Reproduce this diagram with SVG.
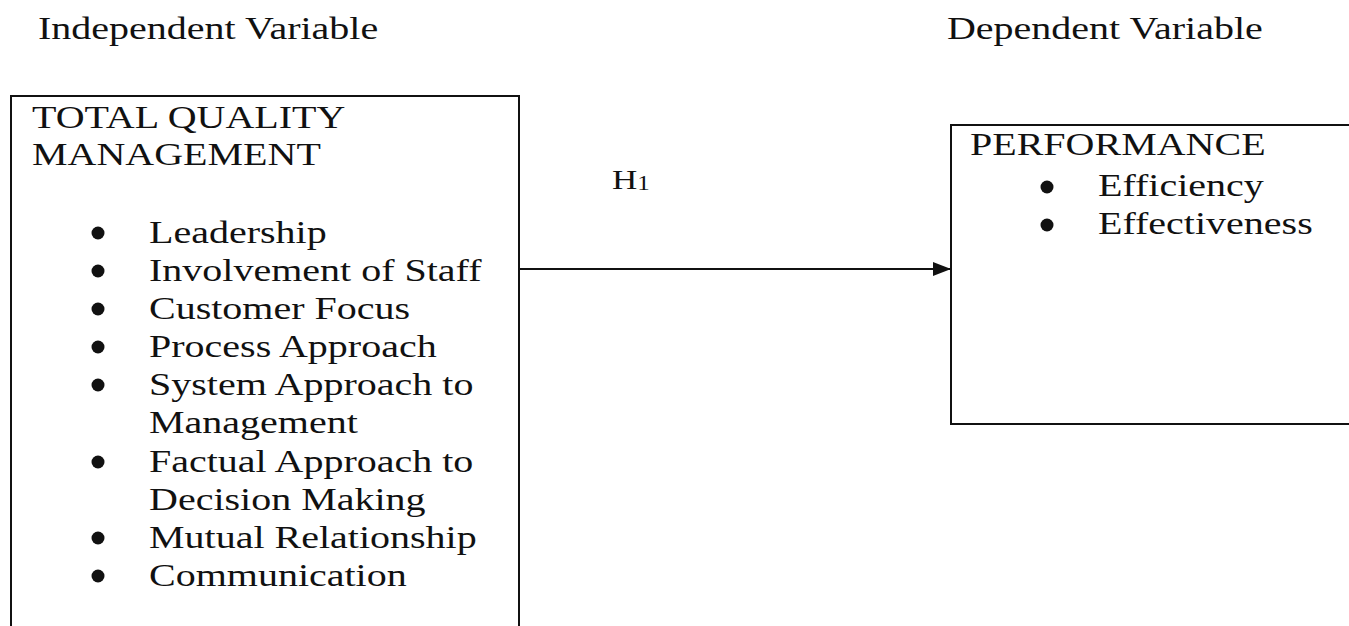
<svg xmlns="http://www.w3.org/2000/svg" width="1349" height="626" viewBox="0 0 1349 626">
  <style>
    text { font-family: "Liberation Serif", "Times New Roman", serif; font-size: 32px; fill: #111; }
    .sub { font-size: 20px; }
    .box { fill: none; stroke: #111; stroke-width: 2; }
    .bul { fill: #111; }
    .conn { stroke: #111; stroke-width: 2; fill: none; }
  </style>
  <defs>
    <marker id="arrow" viewBox="0 0 18 14" refX="18" refY="7" markerWidth="18" markerHeight="14" markerUnits="userSpaceOnUse" orient="auto">
      <path d="M0,0 L18,7 L0,14 Z" fill="#111"/>
    </marker>
  </defs>
  <rect width="1349" height="626" fill="#fff"/>

  <g id="headers" transform="scale(1.25 1)">
    <text x="30.4" y="39">Independent Variable</text>
    <text x="757.6" y="39">Dependent Variable</text>
  </g>

  <g id="tqm">
    <rect class="box" x="11" y="96" width="508" height="560"/>
    <g transform="scale(1.25 1)">
      <text x="25.6" y="128">TOTAL QUALITY</text>
      <text x="25.6" y="165">MANAGEMENT</text>
      <text x="119.2" y="243">Leadership</text>
      <text x="119.2" y="281">Involvement of Staff</text>
      <text x="119.2" y="319">Customer Focus</text>
      <text x="119.2" y="357">Process Approach</text>
      <text x="119.2" y="395">System Approach to</text>
      <text x="119.2" y="433">Management</text>
      <text x="119.2" y="472">Factual Approach to</text>
      <text x="119.2" y="510">Decision Making</text>
      <text x="119.2" y="548">Mutual Relationship</text>
      <text x="119.2" y="586">Communication</text>
    </g>
    <circle class="bul" cx="98" cy="233" r="6.5"/>
    <circle class="bul" cx="98" cy="271" r="6.5"/>
    <circle class="bul" cx="98" cy="309" r="6.5"/>
    <circle class="bul" cx="98" cy="347" r="6.5"/>
    <circle class="bul" cx="98" cy="385" r="6.5"/>
    <circle class="bul" cx="98" cy="462" r="6.5"/>
    <circle class="bul" cx="98" cy="538" r="6.5"/>
    <circle class="bul" cx="98" cy="576" r="6.5"/>
  </g>

  <g id="performance">
    <rect class="box" x="951" y="125" width="420" height="299"/>
    <g transform="scale(1.25 1)">
      <text x="776" y="155">PERFORMANCE</text>
      <text x="878.4" y="196">Efficiency</text>
      <text x="878.4" y="234">Effectiveness</text>
    </g>
    <circle class="bul" cx="1047" cy="187" r="6.5"/>
    <circle class="bul" cx="1047" cy="225" r="6.5"/>
  </g>

  <g id="connectors">
    <line class="conn" x1="519" y1="269" x2="951" y2="269" marker-end="url(#arrow)"/>
    <g transform="scale(1.25 1)">
      <text x="489.6" y="189" style="font-size:28px">H<tspan class="sub" dy="1">1</tspan></text>
    </g>
  </g>
</svg>
